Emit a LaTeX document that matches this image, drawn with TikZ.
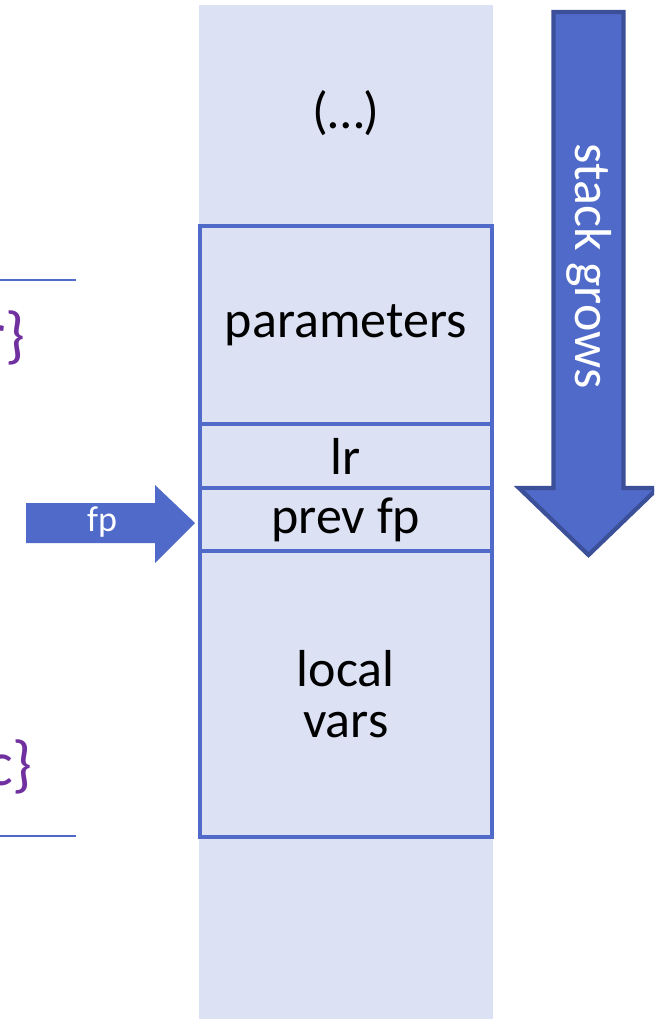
\documentclass[tikz,border=0pt]{standalone}
\usepackage{fontspec}
\setmainfont{Carlito}
\usetikzlibrary{positioning}

\definecolor{stackbg}{RGB}{220,225,243}
\definecolor{slotblue}{RGB}{79,106,201}
\definecolor{arrowedge}{RGB}{59,80,152}
\definecolor{bracepurple}{RGB}{112,48,160}

\tikzset{
  bigtext/.style={font=\fontsize{29.6}{29}\selectfont},
  slot/.style={draw=slotblue,line width=2.3pt,minimum width=5.85cm,outer sep=0pt,inner sep=0pt,align=center,bigtext},
  codetext/.style={text=bracepurple,font=\fontsize{36}{40}\selectfont,inner sep=0pt}
}

\begin{document}
\begin{tikzpicture}[x=0.02cm,y=-0.02cm]
        \useasboundingbox (0,0) rectangle (654,1019);
        \clip (0,0) rectangle (654,1019);
        % the stack column
        \fill[stackbg] (199,5) rectangle (493,1019);
        \node[bigtext] (dots) at (346,113) {(…)};
        \node[slot,minimum height=3.96cm] (params) at (345.75,325) {parameters};
        \node[slot,minimum height=1.28cm,below=0pt of params] (lr) {lr};
        \node[slot,minimum height=1.26cm,below=0pt of lr] (prevfp) {prev fp};
        \node[slot,minimum height=5.72cm,below=0pt of prevfp] (locals) {local\\vars};
        % code on the left
        \coordinate (topl) at (0,280);
        \coordinate (topr) at (76,280);
        \coordinate (botl) at (0,836);
        \coordinate (botr) at (76,836);
        \draw[slotblue,line width=0.9pt] (topl) -- (topr);
        \draw[slotblue,line width=0.9pt] (botl) -- (botr);
        \node[codetext,anchor=east] (openend) at (26,338) {r\}};
        \node[codetext,anchor=east] (closeend) at (33,767) {c\}};
        % frame pointer
        \fill[slotblue] (26,503) -- (155,503) -- (155,485) -- (195,523) -- (155,563) -- (155,543) -- (26,543) -- cycle;
        \node[text=white,font=\fontsize{20.5}{24}\selectfont] (fp) at (102,522) {fp};
        % direction of growth
        \draw[fill=slotblue,draw=arrowedge,line width=2.4pt] (553.5,12) -- (623.5,12) -- (623.5,488) -- (658,488) -- (588.5,555) -- (519,488) -- (553.5,488) -- cycle;
        \node[bigtext,rotate=-90,text=white] (grows) at (589,266) {stack grows};
    \end{tikzpicture}
\end{document}
